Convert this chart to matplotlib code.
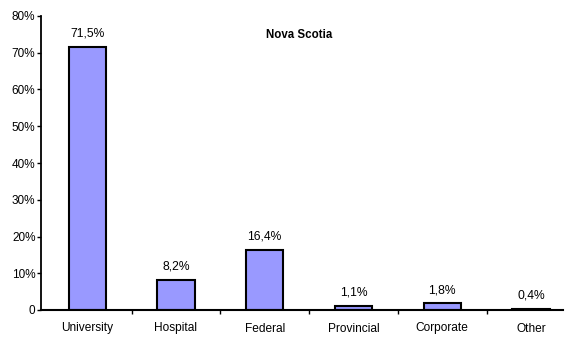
import matplotlib
matplotlib.use('Agg')
import matplotlib.pyplot as plt
from matplotlib.ticker import FixedLocator

plt.rcParams['font.family'] = ['Liberation Sans', 'DejaVu Sans']

# Distribution by sector, Nova Scotia
categories = ['University', 'Hospital', 'Federal', 'Provincial', 'Corporate', 'Other']
shares = [71.5, 8.2, 16.4, 1.1, 1.8, 0.4]
y_ticks = [0, 10, 20, 30, 40, 50, 60, 70, 80]
y_tick_labels = ['0', '10%', '20%', '30%', '40%', '50%', '60%', '70%', '80%']

fig = plt.figure(figsize=(5.72, 3.49), dpi=100)
ax = fig.add_axes([41 / 572, 39 / 349, 522 / 572, 294 / 349])

x = list(range(len(categories)))
bars = ax.bar(x, shares, width=0.42, color='#9999FF', edgecolor='black', linewidth=1.5)

for bar, v in zip(bars, shares):
    ax.text(bar.get_x() + bar.get_width() / 2, v + 2.0, f'{v:.1f}%'.replace('.', ','),
            ha='center', va='bottom', fontsize=8.7)

ax.set_xlim(-0.52, 5.36)
ax.set_ylim(0, 80)
ax.set_yticks(y_ticks)
ax.set_yticklabels(y_tick_labels, fontsize=8.5)

# category labels centred, tick marks on the category boundaries
ax.set_xticks(x)
ax.set_xticklabels(categories, fontsize=8.6)
ax.tick_params(axis='x', length=0, pad=9)
ax.xaxis.set_minor_locator(FixedLocator([i + 0.5 for i in x[:-1]]))
ax.tick_params(axis='x', which='minor', length=3, width=1, direction='out')
ax.tick_params(axis='y', length=3, width=1, direction='out', pad=1)

for side in ['top', 'right']:
    ax.spines[side].set_visible(False)
ax.spines['left'].set_linewidth(1.3)
ax.spines['bottom'].set_linewidth(1.5)

ax.text(0.495, 0.935, 'Nova Scotia', transform=ax.transAxes, ha='center', va='center',
        fontsize=8.3, fontweight='bold')

fig.savefig('out.png', dpi=100, facecolor='white')
